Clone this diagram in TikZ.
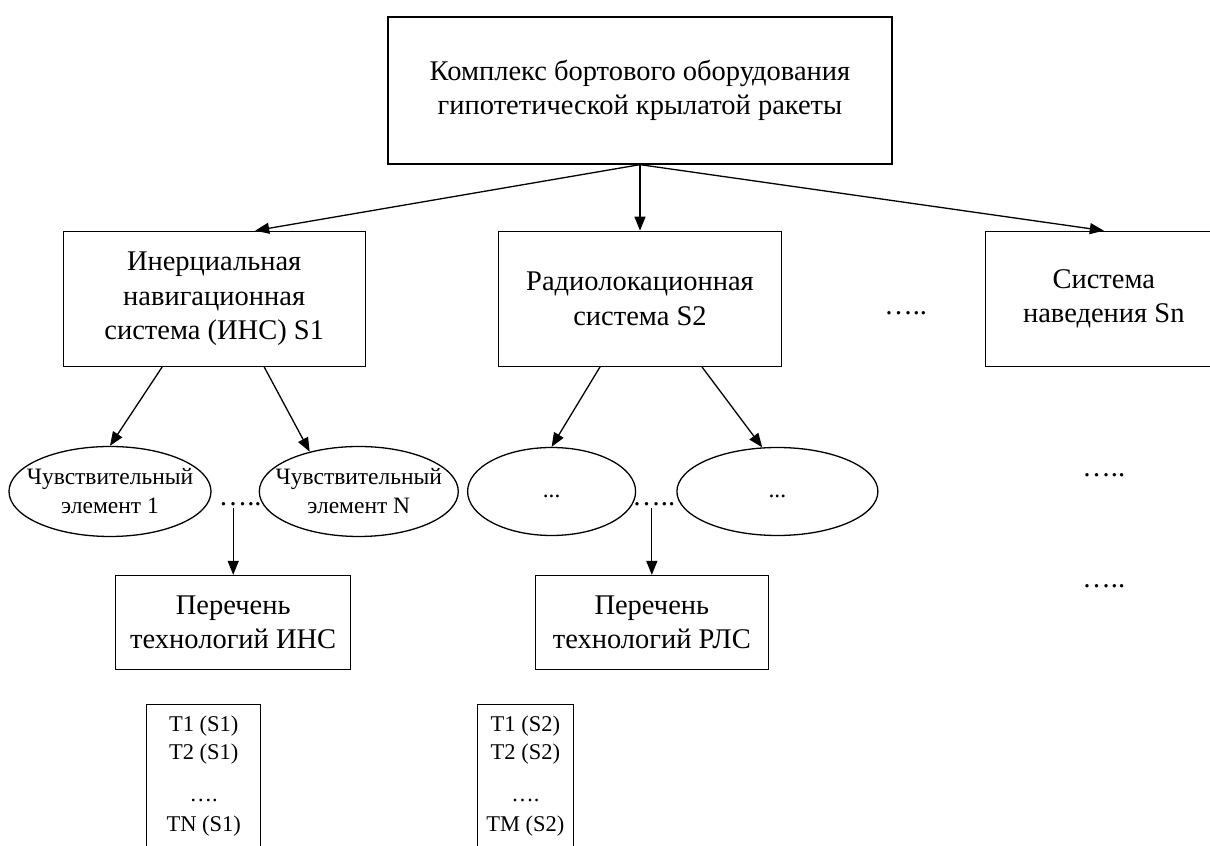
\documentclass[tikz,border=0pt]{standalone}
\usepackage{fontspec}
\setmainfont{Liberation Serif}
\usetikzlibrary{shapes.geometric, arrows.meta, positioning}

\begin{document}
\begin{tikzpicture}[
    x=1bp, y=1bp,
    box/.style={rectangle, draw, line width=1.3bp, align=center, inner sep=0pt, font=\fontsize{28.5bp}{34.5bp}\selectfont},
    sensor/.style={ellipse, draw, line width=1.3bp, align=center, inner xsep=-14bp, inner ysep=0pt, minimum height=90bp, font=\fontsize{23.5bp}{29bp}\selectfont},
    techlist/.style={rectangle, draw, line width=1.3bp, align=center, inner sep=0pt, text height=127bp, text depth=20bp, font=\fontsize{22.5bp}{28bp}\selectfont},
    dotrow/.style={inner sep=0pt, font=\fontsize{28.5bp}{34.5bp}\selectfont},
    arrow/.style={-{Triangle[length=14bp, width=11bp]}, line width=1.3bp}
]
    \useasboundingbox (0,0) rectangle (1210,846);

    % Top level
    \node[box, minimum width=504bp, minimum height=147bp] (complex) at (640,755.5) {Комплекс бортового оборудования\\гипотетической крылатой ракеты};

    % Systems
    \node[box, minimum width=283bp, minimum height=135bp, below=66bp of complex] (rls) {Радиолокационная\\система S2};
    \node[box, minimum width=302bp, minimum height=135bp, left=132bp of rls] (ins) {Инерциальная\\навигационная\\система (ИНС) S1};
    \node[box, minimum width=236bp, minimum height=135bp, right=203bp of rls] (sn) {Система\\наведения Sn};
    \node[dotrow, right=102bp of rls, yshift=-14.5bp] (gap) {…..};

    % Elements
    \node[sensor, minimum width=202bp] (el1) at (110,354.5) {Чувствительный\\элемент 1};
    \node[sensor, minimum width=199bp, right=47bp of el1] (el2) {Чувствительный\\элемент N};
    \node[sensor, minimum width=168bp, minimum height=88bp, right=8bp of el2] (el3) {\smash{\raisebox{-6bp}{...}}};
    \node[sensor, minimum width=201bp, minimum height=88bp, right=40bp of el3] (el4) {\smash{\raisebox{-6bp}{...}}};
    \node[dotrow, right=7bp of el1, yshift=-12.5bp] (gap1) {…..};
    \node[dotrow, right=-4bp of el3, yshift=-12.5bp] (gap2) {…..};
    \node[dotrow, below=106bp of sn] (more1) {…..};
    \node[dotrow, below=108bp of more1] (more2) {…..};

    % Technology lists
    \node[box, minimum width=235bp, minimum height=94bp, below=69bp of gap1, xshift=-7bp] (tins) {Перечень\\технологий ИНС};
    \node[box, minimum width=233bp, minimum height=94bp, below=69bp of gap2, xshift=-2bp] (trls) {Перечень\\технологий РЛС};
    \node[techlist, minimum width=114bp, below=34bp of tins, xshift=-29.5bp] (lins) {T1 (S1)\\T2 (S1)\\[14bp]….\\[2bp]TN (S1)};
    \node[techlist, minimum width=96bp, below=34bp of trls, xshift=-126.5bp] (lrls) {T1 (S2)\\T2 (S2)\\[14bp]….\\[2bp]TM (S2)};

    % Arrows
    \draw[arrow] (complex.south) -- ([xshift=41bp]ins.north);
    \draw[arrow] (complex.south) -- (rls.north);
    \draw[arrow] (complex.south) -- (sn.north);
    \draw[arrow] ([xshift=-52bp]ins.south) -- (el1.north);
    \draw[arrow] ([xshift=50bp]ins.south) -- (el2.141);
    \draw[arrow] ([xshift=-40bp]rls.south) -- (el3.north);
    \draw[arrow] ([xshift=62bp]rls.south) -- (el4.109);
    \draw[arrow] (gap1.south -| tins.north) ++(0,-2) -- (tins.north);
    \draw[arrow] (gap2.south -| trls.north) ++(0,-2) -- (trls.north);
\end{tikzpicture}
\end{document}
